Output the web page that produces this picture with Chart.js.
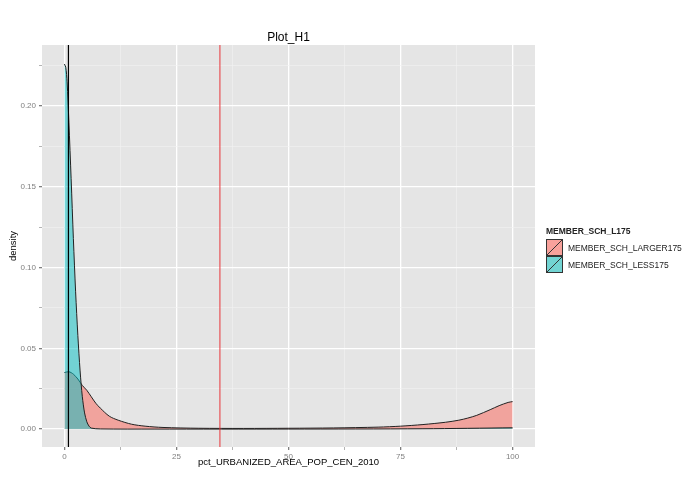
<!DOCTYPE html>
<html><head><meta charset="utf-8">
<script src="https://cdn.jsdelivr.net/npm/chart.js@4"></script>
<style>body{margin:0;background:#fff;font-family:"Liberation Sans",Arial,sans-serif}#w{position:relative;width:695px;height:494px}
#lg{position:absolute;left:546px;top:226px;font-size:8.5px;color:#222}
.it{display:flex;align-items:center;height:17px}.it svg{margin-right:5px}</style></head>
<body><div id="w"><canvas id="c" width="695" height="494"></canvas>
<div id="lg"><div style="font-weight:bold;margin-bottom:3px">MEMBER_SCH_L175</div>
<div class="it"><svg width="17" height="17"><rect x="0.5" y="0.5" width="16" height="16" fill="#F8A19B" stroke="#333"/><line x1="1" y1="16" x2="16" y2="1" stroke="#333"/></svg>MEMBER_SCH_LARGER175</div>
<div class="it"><svg width="17" height="17"><rect x="0.5" y="0.5" width="16" height="16" fill="#72D4D3" stroke="#333"/><line x1="1" y1="16" x2="16" y2="1" stroke="#333"/></svg>MEMBER_SCH_LESS175</div></div></div>
<script>
const largerX=[0,1,2,3,4,5,6,7,8,10,12,15,18,22,30,40,50,60,70,75,80,85,88,90,92,95,97,99,100];
const largerY=[0.035,0.0355,0.034,0.031,0.027,0.024,0.020,0.016,0.013,0.008,0.0055,0.003,0.0018,0.001,0.0005,0.0004,0.0005,0.0007,0.0012,0.0018,0.0028,0.0042,0.0055,0.0068,0.0085,0.012,0.0145,0.0165,0.017];
const lessX=[0,0.3,0.6,1,1.5,2,2.5,3,3.5,4,4.5,5,5.5,6,8,20,50,80,100];
const lessY=[0.226,0.224,0.215,0.19,0.155,0.118,0.085,0.058,0.036,0.02,0.01,0.0045,0.0018,0.0006,0.0001,0,0,0.0002,0.0008];
const redLine=34.7, blackLine=0.9;
const xTicks=[0,12.5,25,37.5,50,62.5,75,87.5,100];
const yTicks=[0,0.025,0.05,0.075,0.1,0.125,0.15,0.175,0.2,0.225];
const pts=(xs,ys)=>xs.map((x,i)=>({x,y:ys[i]}));
const bg={id:'bg',beforeDraw(c){const a=c.chartArea,g=c.ctx;g.fillStyle='#e5e5e5';g.fillRect(a.left,a.top,a.right-a.left,a.bottom-a.top);},
afterDraw(c){const a=c.chartArea,g=c.ctx;g.fillStyle='#000';g.textAlign='center';g.font='12px "Liberation Sans"';g.fillText('Plot_H1',(a.left+a.right)/2,41);
g.font='9.5px "Liberation Sans"';g.fillText('pct_URBANIZED_AREA_POP_CEN_2010',(a.left+a.right)/2,465);
g.save();g.translate(16,(a.top+a.bottom)/2);g.rotate(-Math.PI/2);g.fillText('density',0,0);g.restore();}};
const grid=(maj)=>({color:c=>maj(c.tick&&c.tick.value)?'#ffffff':'#f2f2f2',lineWidth:c=>maj(c.tick&&c.tick.value)?1.3:0.6,drawTicks:true,tickLength:3,tickColor:'#7f7f7f'});
const mx=v=>Math.abs(v/25-Math.round(v/25))<1e-6, my=v=>Math.abs(v/0.05-Math.round(v/0.05))<1e-6;
new Chart(document.getElementById('c'),{type:'scatter',data:{datasets:[
{data:pts(lessX,lessY),showLine:true,fill:'origin',backgroundColor:'rgba(0,191,196,0.5)',borderColor:'#222',borderWidth:1,pointRadius:0,tension:0.3,order:0},
{data:pts(largerX,largerY),showLine:true,fill:'origin',backgroundColor:'rgba(248,118,109,0.6)',borderColor:'#222',borderWidth:1,pointRadius:0,tension:0.3,order:1},
{data:[{x:redLine,y:-1},{x:redLine,y:1}],showLine:true,borderColor:'#e8343a',borderWidth:1,pointRadius:0,order:-1},
{data:[{x:blackLine,y:-1},{x:blackLine,y:1}],showLine:true,borderColor:'#000',borderWidth:1.2,pointRadius:0,order:-2}]},
options:{responsive:false,animation:false,layout:{padding:{top:45,right:160,left:0,bottom:0}},
plugins:{legend:{display:false},tooltip:{enabled:false}},
scales:{x:{type:'linear',min:-5,max:105,afterBuildTicks:s=>{s.ticks=xTicks.map(v=>({value:v}))},afterFit:s=>{s.height=47},
ticks:{autoSkip:false,maxRotation:0,color:'#7f7f7f',font:{size:8},padding:2,callback:v=>mx(v)?String(v):''},grid:grid(mx),border:{display:false}},
y:{min:-0.0111,max:0.2378,afterBuildTicks:s=>{s.ticks=yTicks.map(v=>({value:v}))},afterFit:s=>{s.width=42},
ticks:{autoSkip:false,color:'#7f7f7f',font:{size:8},padding:3,callback:v=>my(v)?v.toFixed(2):''},grid:grid(my),border:{display:false}}}},
plugins:[bg]});
</script></body></html>
